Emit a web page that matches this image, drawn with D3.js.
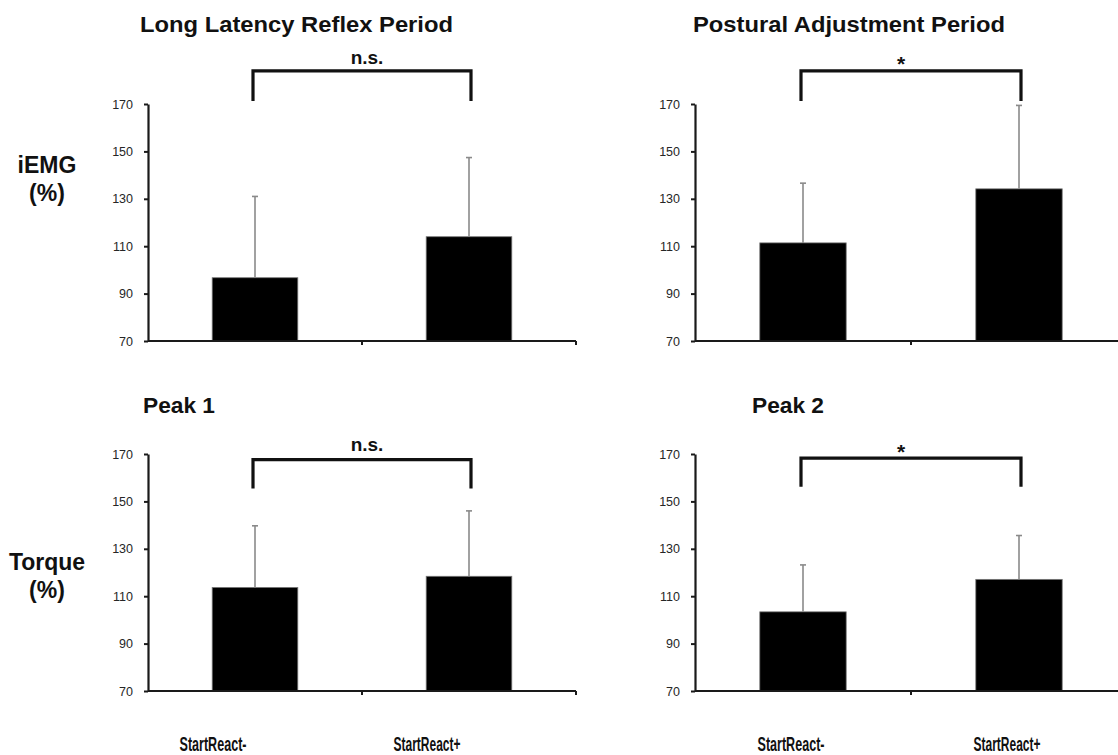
<!DOCTYPE html>
<html>
<head>
<meta charset="utf-8">
<script src="https://cdn.jsdelivr.net/npm/d3@7"></script>
<style>
  html, body { margin: 0; padding: 0; background: #fff; }
  svg { display: block; font-family: "Liberation Sans", Arial, sans-serif; }
</style>
</head>
<body>
<svg id="chart" width="1118" height="755"></svg>
<script>
// ---- data ----
const categories = ["StartReact-", "StartReact+"];
const panelTitles = ["Long Latency Reflex Period", "Postural Adjustment Period", "Peak 1", "Peak 2"];
const rowLabels = [["iEMG", "(%)"], ["Torque", "(%)"]];
const yTicks = [70, 90, 110, 130, 150, 170];

const meanLongLatency = [96.7, 114.0];
const sdLongLatency = [34.3, 33.4];
const meanPostural = [111.4, 134.2];
const sdPostural = [25.2, 35.2];
const meanPeak1 = [113.7, 118.4];
const sdPeak1 = [26.0, 27.6];
const meanPeak2 = [103.4, 117.1];
const sdPeak2 = [19.8, 18.5];

const significance = ["n.s.", "*", "n.s.", "*"];

// ---- layout ----
const svg = d3.select("#chart");
svg.append("rect").attr("width", 1118).attr("height", 755).attr("fill", "#fff");

const colX = [[148, 576], [695, 1127]];
const rowY = [[341, 104], [691, 454]];
const yDomain = [70, 170];

const panels = [
  { title: panelTitles[0], mean: meanLongLatency, sd: sdLongLatency, sig: significance[0], col: 0, row: 0,
    bracket: [184, 171.3], sigDy: -7, titleX: 140, titleLen: 313 },
  { title: panelTitles[1], mean: meanPostural, sd: sdPostural, sig: significance[1], col: 1, row: 0,
    bracket: [184, 171.3], sigDy: 0, titleX: 693, titleLen: 312 },
  { title: panelTitles[2], mean: meanPeak1, sd: sdPeak1, sig: significance[2], col: 0, row: 1,
    bracket: [167.6, 155.4], sigDy: -9, titleX: 143, titleLen: 72 },
  { title: panelTitles[3], mean: meanPeak2, sd: sdPeak2, sig: significance[3], col: 1, row: 1,
    bracket: [168.3, 156.2], sigDy: 1, titleX: 752, titleLen: 72 }
];

panels.forEach(p => {
  const [x0, x1] = colX[p.col];
  const x = d3.scaleBand().domain(categories).range([x0, x1])
    .paddingInner(0.6).paddingOuter(0.3);
  const y = d3.scaleLinear().domain(yDomain).range(rowY[p.row]);
  const g = svg.append("g");

  // bars
  g.selectAll("rect.bar").data(categories).join("rect")
    .attr("class", "bar")
    .attr("x", d => x(d))
    .attr("width", x.bandwidth())
    .attr("y", (d, i) => y(p.mean[i]))
    .attr("height", (d, i) => y(yDomain[0]) - y(p.mean[i]))
    .attr("fill", "#000")
    .attr("stroke", "#777")
    .attr("stroke-width", 0.8);

  // error bars (upper whisker only)
  const cx = d => x(d) + x.bandwidth() / 2;
  g.selectAll("line.err").data(categories).join("line")
    .attr("class", "err")
    .attr("x1", cx).attr("x2", cx)
    .attr("y1", (d, i) => y(p.mean[i]))
    .attr("y2", (d, i) => y(p.mean[i] + p.sd[i]))
    .attr("stroke", "#8a8a8a").attr("stroke-width", 1.6);
  g.selectAll("line.cap").data(categories).join("line")
    .attr("class", "cap")
    .attr("x1", d => cx(d) - 3).attr("x2", d => cx(d) + 3)
    .attr("y1", (d, i) => y(p.mean[i] + p.sd[i]))
    .attr("y2", (d, i) => y(p.mean[i] + p.sd[i]))
    .attr("stroke", "#8a8a8a").attr("stroke-width", 1.6);

  // y axis
  const yAxis = g.append("g")
    .attr("transform", `translate(${x0},0)`)
    .call(d3.axisLeft(y).tickValues(yTicks).tickSize(4).tickPadding(11).tickSizeOuter(0));
  yAxis.select(".domain").attr("stroke", "#1a1a1a").attr("stroke-width", 2.2);
  yAxis.selectAll(".tick line").attr("stroke", "#1a1a1a").attr("stroke-width", 2);
  yAxis.selectAll(".tick text")
    .attr("font-size", 12.5).attr("fill", "#262626")
    .attr("font-family", "Liberation Sans, Arial, sans-serif");

  // x axis with ticks at category boundaries
  const xBase = y(yDomain[0]);
  g.append("line")
    .attr("x1", x0).attr("x2", x1).attr("y1", xBase).attr("y2", xBase)
    .attr("stroke", "#1a1a1a").attr("stroke-width", 2.2);
  const step = x.step();
  const boundaries = [x0 + step, x0 + 2 * step];
  g.selectAll("line.xt").data(boundaries).join("line")
    .attr("class", "xt")
    .attr("x1", d => d).attr("x2", d => d)
    .attr("y1", xBase).attr("y2", xBase + 4)
    .attr("stroke", "#1a1a1a").attr("stroke-width", 2);

  // significance bracket
  const bx1 = cx(categories[0]) - 2, bx2 = cx(categories[1]) + 2;
  const by = y(p.bracket[0]), byEnd = y(p.bracket[1]);
  g.append("path")
    .attr("d", `M${bx1},${byEnd}V${by}H${bx2}V${byEnd}`)
    .attr("fill", "none").attr("stroke", "#111").attr("stroke-width", 3.2);
  const isStar = p.sig === "*";
  g.append("text")
    .attr("x", (bx1 + bx2) / 2 + (isStar ? -10 : 5))
    .attr("y", by + p.sigDy)
    .attr("text-anchor", "middle")
    .attr("font-size", isStar ? 21 : 19).attr("font-weight", "bold").attr("fill", "#111")
    .text(p.sig);

  // panel title
  svg.append("text")
    .attr("x", p.titleX).attr("y", rowY[p.row][1] - (p.row === 0 ? 72 : 41))
    .attr("font-size", 22.5).attr("font-weight", "bold").attr("fill", "#111")
    .attr("textLength", p.titleLen).attr("lengthAdjust", "spacingAndGlyphs")
    .text(p.title);
});

// row labels
const rowLabelY = [[173, 201], [570, 598]];
rowLabels.forEach((lines, r) => {
  lines.forEach((t, k) => {
    svg.append("text")
      .attr("x", 47).attr("y", rowLabelY[r][k])
      .attr("text-anchor", "middle")
      .attr("font-size", 23).attr("font-weight", "bold").attr("fill", "#111")
      .text(t);
  });
});

// category labels under the bottom row
colX.forEach(([x0, x1], c) => {
  const x = d3.scaleBand().domain(categories).range([x0, x1])
    .paddingInner(0.6).paddingOuter(0.3);
  const shift = c === 0 ? -42 : -12;
  svg.selectAll(null).data(categories).join("text")
    .attr("x", d => x(d) + x.bandwidth() / 2 + shift)
    .attr("y", 751)
    .attr("text-anchor", "middle")
    .attr("font-size", 20).attr("font-weight", "bold").attr("fill", "#111")
    .attr("textLength", 67).attr("lengthAdjust", "spacingAndGlyphs")
    .text(d => d);
});
</script>
</body>
</html>
